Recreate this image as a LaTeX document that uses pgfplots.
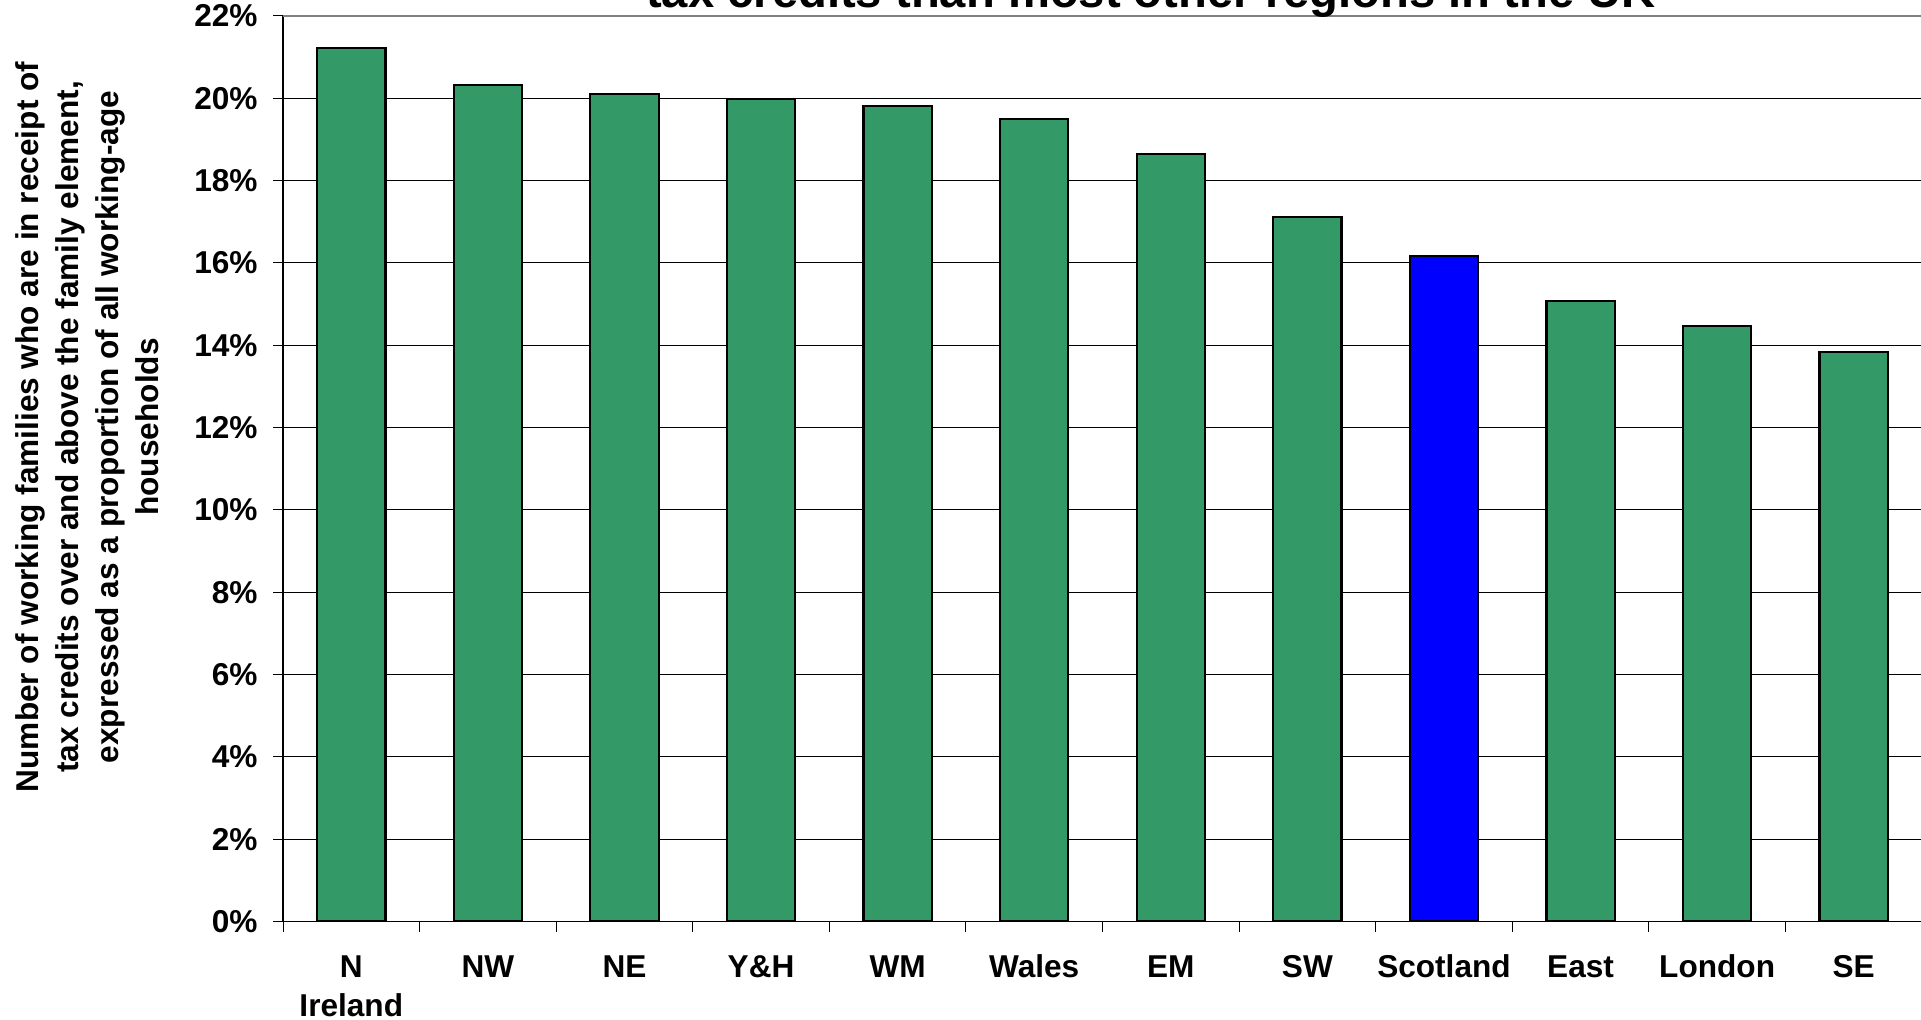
\documentclass[border=0pt]{standalone}
\usepackage{pgfplots}
\pgfplotsset{compat=1.18}
\usepackage{fontspec}
\setmainfont{Liberation Sans}
\definecolor{barGreen}{HTML}{339966}
\definecolor{barBlue}{HTML}{0000FF}
\begin{document}
\begin{tikzpicture}
\begin{axis}[
  at={(141.5pt,49.2pt)}, anchor=south west,
  scale only axis, width=819.5pt, height=452.8pt,
  xmin=-0.5, xmax=11.5, ymin=0, ymax=22,
  enlargelimits=false,
  axis x line*=bottom, axis y line*=left,
  axis line style={black, line width=0.8pt},
  ytick={0,2,...,22},
  yticklabels={0\%,2\%,4\%,6\%,8\%,10\%,12\%,14\%,16\%,18\%,20\%,22\%},
  xtick={-0.5,0.5,...,11.5},
  xticklabels={},
  extra x ticks={0,1,...,11},
  extra x tick labels={\strut N\\Ireland,\strut NW,\strut NE,\strut Y\&H,\strut WM,\strut Wales,\strut EM,\strut SW,\strut Scotland,\strut East,\strut London,\strut SE},
  extra x tick style={major tick length=0pt, grid=none},
  tick align=outside, major tick length=5pt,
  tick style={black, line width=0.5pt},
  ymajorgrids, grid style={black, line width=0.5pt},
  xticklabel style={font=\fontsize{15.8}{19.6}\selectfont\bfseries, align=center, anchor=north, inner sep=0pt, yshift=-13.8pt},
  yticklabel style={font=\fontsize{15.8}{20}\selectfont\bfseries, anchor=east, inner sep=0pt, xshift=-7.5pt},
  ybar, bar width=34.15pt, bar shift=0pt,
]
\addplot[fill=barGreen, draw=black, line width=1.1pt] coordinates {
  (0,21.23) (1,20.33) (2,20.10) (3,19.98) (4,19.81) (5,19.50) (6,18.65) (7,17.11) (9,15.07) (10,14.46) (11,13.84)
};
\addplot[fill=barBlue, draw=black, line width=1.1pt] coordinates {
  (8,16.16)
};
\draw[gray, line width=1.5pt] (rel axis cs:0,1) -- (rel axis cs:1,1);
\end{axis}
\node[anchor=base, font=\fontsize{23.6}{28}\selectfont\bfseries] at (575.5pt,506.25pt) {tax credits than most other regions in the UK};
\node[rotate=90, align=center, font=\fontsize{15.8}{20}\selectfont\bfseries] at (43.5pt,296.5pt) {Number of working families who are in receipt of\\tax credits over and above the family element,\\expressed as a proportion of all working-age\\households};
\pgfresetboundingbox
\useasboundingbox (0,0) rectangle (960.5pt,510pt);
\end{tikzpicture}
\end{document}
